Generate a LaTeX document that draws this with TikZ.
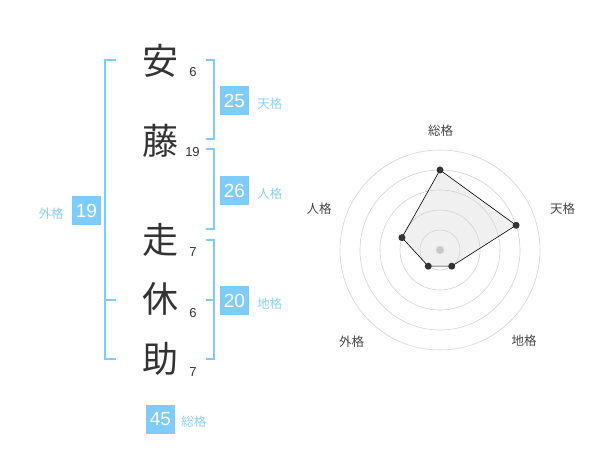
\documentclass[tikz,border=0pt]{standalone}
\usepackage{fontspec}
\setmainfont{Liberation Sans}
\newfontfamily\jpfont{Noto Sans CJK JP}
\definecolor{kakublue}{RGB}{125, 204, 250}
\definecolor{labelblue}{RGB}{140, 208, 245}
\definecolor{inkgray}{RGB}{51, 51, 51}
\definecolor{ringgray}{RGB}{210, 210, 210}
\definecolor{dotgray}{RGB}{200, 200, 200}
\definecolor{areagray}{RGB}{240, 240, 240}
\usetikzlibrary{positioning, calc}

\begin{document}
\begin{tikzpicture}[x=1pt, y=-1pt,
  kanji/.style={font=\jpfont\fontsize{36}{36}\selectfont, text=inkgray, inner sep=0pt},
  strokes/.style={font=\fontsize{13}{13}\selectfont, text=inkgray, inner sep=0pt},
  kakubox/.style={fill=kakublue, text=white, minimum size=29pt, inner sep=0pt, font=\fontsize{19}{19}\selectfont},
  kakulabel/.style={font=\jpfont\fontsize{12.5}{12.5}\selectfont, text=labelblue, inner sep=0pt},
  bracket/.style={draw=kakublue, line width=1.5pt},
  axislabel/.style={font=\jpfont\fontsize{12.5}{12.5}\selectfont, text=inkgray!90, inner sep=0pt}]
  \useasboundingbox (0,0) rectangle (600,470);

  % Name
  \node[kanji] (k1) at (160, 60.5) {安};
  \node[kanji] (k2) at (160, 141) {藤};
  \node[kanji] (k3) at (160, 240) {走};
  \node[kanji] (k4) at (160, 299) {休};
  \node[kanji] (k5) at (160, 359) {助};
  \node[strokes] (s1) at (193, 72.5) {6};
  \node[strokes] (s2) at (192.5, 152.5) {19};
  \node[strokes] (s3) at (193, 252.5) {7};
  \node[strokes] (s4) at (193, 313) {6};
  \node[strokes] (s5) at (193, 372.5) {7};

  % Brackets
  \draw[bracket] (116, 60) -- (105, 60) -- (105, 359) -- (116, 359);
  \draw[bracket] (105, 300) -- (116, 300);
  \draw[bracket] (206, 60) -- (214, 60) -- (214, 139) -- (206, 139);
  \draw[bracket] (206, 149) -- (214, 149) -- (214, 229) -- (206, 229);
  \draw[bracket] (206, 240) -- (214, 240) -- (214, 359) -- (206, 359);
  \draw[bracket] (214, 300) -- (206, 300);

  % Kaku
  \node[kakubox] (ten) at (234.5, 100.5) {25};
  \node[kakulabel, right=8pt of ten, yshift=-3pt] (tenl) {天格};
  \node[kakubox] (jin) at (234.5, 190.5) {26};
  \node[kakulabel, right=8pt of jin, yshift=-3pt] (jinl) {人格};
  \node[kakubox] (chi) at (234.5, 300.5) {20};
  \node[kakulabel, right=8pt of chi, yshift=-3pt] (chil) {地格};
  \node[kakubox] (gai) at (86.5, 210.5) {19};
  \node[kakulabel, left=8pt of gai, yshift=-3pt] (gail) {外格};
  \node[kakubox] (sou) at (160.5, 419) {45};
  \node[kakulabel, right=6pt of sou, yshift=-3pt] (soul) {総格};

  % Radar
  \begin{scope}[shift={(440, 250)}, yscale=-1]
    \coordinate (rsou) at (90:80);
    \coordinate (rten) at (18:80);
    \coordinate (rchi) at (-54:20);
    \coordinate (rgai) at (-126:20);
    \coordinate (rjin) at (162:40);
    \fill[areagray] (rsou) -- (rten) -- (rchi) -- (rgai) -- (rjin) -- cycle;
    \foreach \r in {20, 40, 60, 80, 100}
      \draw[ringgray, line width=0.6pt] (0,0) circle (\r pt);
    \fill[dotgray] (0,0) circle (4pt);
    \draw[black, line width=0.6pt] (rsou) -- (rten) -- (rchi) -- (rgai) -- (rjin) -- cycle;
    \foreach \p in {rsou, rten, rchi, rgai, rjin}
      \fill[inkgray] (\p) circle (3.5pt);
    \node[axislabel] (asou) at (0.5, 119.5) {総格};
    \node[axislabel] (aten) at (122.5, 41.5) {天格};
    \node[axislabel] (achi) at (84, -90.5) {地格};
    \node[axislabel] (agai) at (-88.5, -91.5) {外格};
    \node[axislabel] (ajin) at (-121, 41) {人格};
  \end{scope}
\end{tikzpicture}
\end{document}
